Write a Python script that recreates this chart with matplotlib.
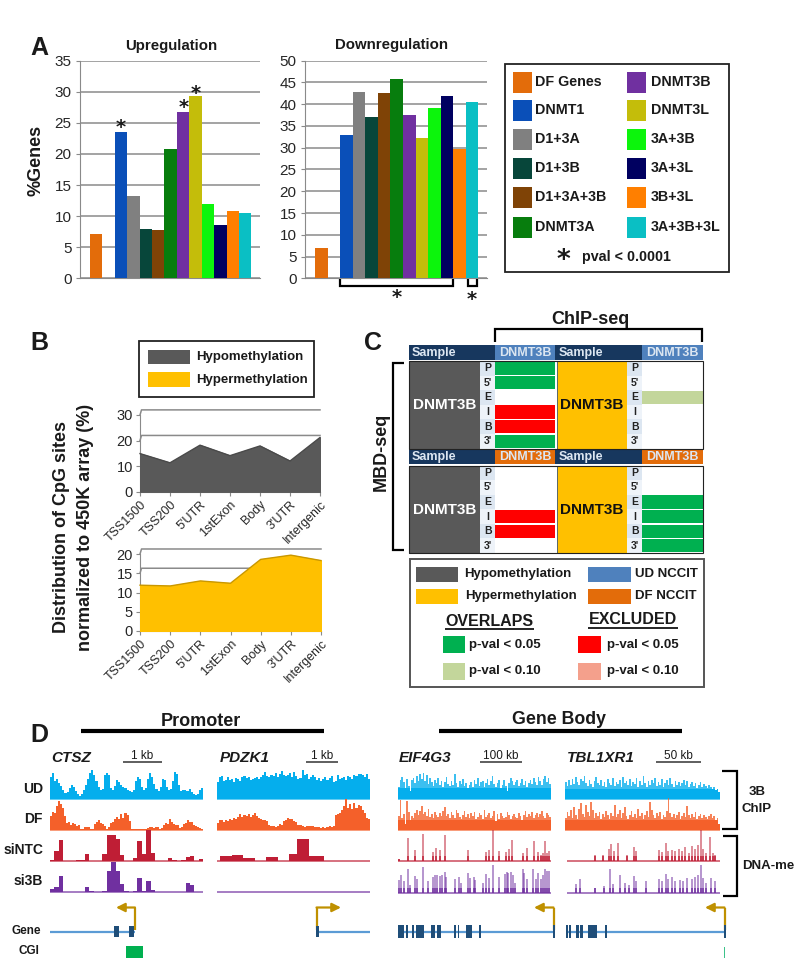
import numpy as np
import matplotlib
matplotlib.use("Agg")
import matplotlib.pyplot as plt
from matplotlib.patches import Rectangle

plt.rcParams['font.family'] = ['Liberation Sans', 'DejaVu Sans']

W, H = 800, 974

# ---- panel A data
groups = ['DF Genes', 'DNMT1', 'D1+3A', 'D1+3B', 'D1+3A+3B', 'DNMT3A',
          'DNMT3B', 'DNMT3L', '3A+3B', '3A+3L', '3B+3L', '3A+3B+3L']
group_colors = ['#e36c0a', '#0a4fb8', '#808080', '#07463a', '#7f4306', '#077d0d',
                '#7030a0', '#c4bd0a', '#0cf50c', '#000060', '#ff7f00', '#0abfc4']
up_values = [7.2, 23.5, 13.2, 8.0, 7.8, 20.8, 26.8, 29.4, 12.0, 8.5, 10.8, 10.5]
down_values = [7.0, 33.0, 42.8, 37.0, 42.5, 45.8, 37.6, 32.3, 39.2, 41.8, 29.6, 40.6]
bar_slots = [0, 2, 3, 4, 5, 6, 7, 8, 9, 10, 11, 12]

# ---- panel B data
regions = ['TSS1500', 'TSS200', "5'UTR", '1stExon', 'Body', "3'UTR", 'Intergenic']
hypo_values = [14.9, 11.3, 18.2, 14.1, 17.9, 12.0, 21.2]
hyper_values = [11.9, 11.7, 13.0, 12.4, 18.6, 19.7, 18.3]

# ---- panel C data, g = p<0.05 overlap, l = p<0.10 overlap, r = p<0.05 excluded
row_letters = ['P', "5'", 'E', 'I', 'B', "3'"]
ud_hypo = ['g', 'g', '', 'r', 'r', 'g']
ud_hyper = ['', '', 'l', '', '', '']
df_hypo = ['', '', '', 'r', 'r', '']
df_hyper = ['', '', 'g', 'g', 'g', 'g']

# ---- panel D data, track heights in pixels of the original figure
ctsz_ud = [22, 26, 18, 20, 16, 13, 9, 6, 7, 11, 14, 12, 8, 5, 3, 5, 9, 14, 20, 26, 29, 24, 18, 12, 9, 10, 24,
           26, 24, 11, 9, 13, 19, 17, 14, 12, 11, 9, 8, 7, 9, 18, 22, 20, 12, 9, 11, 20, 26, 22, 15, 10, 8, 12,
           20, 19, 12, 9, 10, 18, 27, 25, 14, 8, 9, 9, 8, 10, 7, 5, 4, 5, 9, 11]
ctsz_df = [14, 18, 17, 24, 29, 26, 22, 14, 7, 8, 5, 7, 6, 4, 5, 1, 1, 3, 3, 3, 1, 1, 6, 8, 10, 7, 6, 4, 1, 3, 7,
           8, 11, 13, 11, 16, 12, 17, 15, 9, 1, 1, 1, 1, 1, 1, 1, 1, 2, 3, 3, 2, 3, 3, 1, 2, 5, 7, 6, 11, 8, 6, 5,
           5, 2, 3, 6, 7, 10, 8, 8, 5, 4, 3, 2, 1]
ctsz_ntc = [1, 10, 21, 0, 0, 0, 1, 1, 7, 0, 0, 0, 7, 26, 26, 22, 6, 0, 0, 3, 20, 7, 31, 8, 0, 0, 0, 3, 1, 0, 1, 4, 5, 0, 2]
ctsz_si3b = [3, 5, 16, 0, 0, 0, 0, 0, 5, 1, 0, 0, 1, 21, 30, 21, 8, 1, 0, 1, 14, 1, 11, 2, 0, 0, 0, 0, 0, 0, 0, 9, 7, 0, 0]

pdzk_ud = [17, 22, 23, 18, 19, 22, 19, 20, 17, 21, 20, 18, 22, 23, 21, 22, 19, 20, 21, 22, 20, 22, 24, 27, 23, 22,
           24, 23, 26, 22, 25, 28, 24, 23, 24, 26, 22, 27, 23, 20, 21, 29, 24, 25, 20, 22, 24, 22, 19, 21, 18, 20,
           22, 19, 21, 23, 17, 18, 24, 20, 21, 22, 19, 23, 22, 20, 24, 23, 25, 25, 24, 22, 25, 20]
pdzk_df = [7, 10, 10, 8, 10, 9, 11, 10, 12, 11, 13, 16, 13, 15, 14, 16, 13, 15, 17, 14, 12, 11, 10, 10, 9, 5, 4, 4,
           3, 4, 6, 5, 9, 10, 12, 11, 11, 9, 8, 5, 5, 4, 3, 4, 4, 4, 4, 3, 3, 3, 2, 3, 2, 3, 4, 3, 4, 15, 16, 17, 20,
           24, 31, 22, 26, 21, 27, 22, 25, 24, 20, 17, 12, 11]
pdzk_ntc = [0, 5, 5, 5, 6, 6, 6, 3, 3, 3, 0, 0, 0, 4, 4, 4, 0, 0, 0, 7, 7, 22, 22, 22, 5, 5, 5, 5, 0, 0, 0, 0, 0, 0, 0, 0, 0, 0, 0, 0]
pdzk_si3b = [0, 0, 0, 0, 0, 0, 0, 0, 0, 0, 0, 0, 0, 0, 0, 0, 0, 0, 0, 0, 0, 0, 0, 0, 0, 0, 0, 0, 0, 0, 0, 0, 0, 0, 0, 0, 0, 0, 0, 0]

eif_ud = [12, 19, 22, 17, 11, 20, 13, 8, 19, 21, 16, 23, 18, 25, 20, 26, 18, 24, 15, 21, 17, 13, 19, 16, 21, 14,
          18, 12, 17, 22, 15, 13, 18, 14, 25, 16, 12, 18, 15, 20, 13, 16, 11, 14, 17, 12, 19, 15, 21, 13, 17, 18,
          12, 16, 20, 14, 18, 23, 15, 12, 16, 19, 11, 14, 19, 13, 8, 16, 21, 18, 14, 17, 19, 13, 16, 20, 14, 18,
          12, 16, 19, 15, 21, 17, 14, 22, 18, 14, 20, 23, 17, 21, 15]
eif_df = [14, 30, 12, 16, 6, 29, 18, 10, 14, 12, 17, 20, 15, 19, 24, 16, 18, 14, 21, 13, 16, 12, 18, 15, 13, 17, 14,
          19, 23, 14, 16, 12, 18, 15, 12, 20, 17, 13, 11, 15, 19, 13, 16, 12, 17, 14, 18, 11, 13, 17, 15, 11, 20, 13,
          15, 17, 12, 14, 19, 9, 16, 11, 17, 14, 12, 13, 18, 15, 11, 14, 16, 13, 12, 17, 14, 10, 15, 19, 13, 16, 14,
          18, 12, 15, 17, 13, 16, 19, 14, 12, 17, 15, 13]
tbl_ud = [17, 13, 19, 14, 20, 15, 22, 17, 14, 20, 18, 23, 16, 13, 19, 15, 12, 18, 22, 16, 14, 19, 13, 17, 12, 20,
          16, 14, 21, 13, 17, 15, 19, 12, 22, 16, 18, 14, 20, 13, 17, 15, 21, 12, 18, 14, 23, 16, 12, 18, 14, 19,
          16, 21, 13, 17, 14, 20, 12, 16, 19, 14, 21, 15, 12, 18, 14, 17, 13, 16, 19, 14, 18, 12, 15, 17, 13, 16,
          11, 14, 17, 12, 15, 13, 11, 14, 12, 10, 12, 9, 10, 7]
tbl_df = [12, 18, 14, 20, 12, 23, 15, 11, 21, 27, 16, 13, 25, 18, 14, 28, 20, 12, 17, 14, 18, 11, 16, 13, 19, 15,
          11, 17, 14, 25, 13, 16, 20, 12, 17, 23, 14, 11, 15, 19, 13, 16, 12, 21, 14, 17, 11, 15, 19, 13, 28, 20,
          15, 12, 17, 14, 18, 11, 15, 13, 19, 32, 17, 13, 16, 12, 15, 18, 11, 14, 17, 13, 24, 15, 12, 16, 13, 18,
          11, 14, 16, 12, 15, 13, 11, 14, 16, 12, 14, 10, 12, 6]

eif_ntc_pos = [2, 29, 52, 74, 104, 113, 126, 140, 209, 264, 273, 286, 305, 325, 335, 344, 375, 389, 408, 422, 429, 435, 443, 449, 455]
eif_ntc_h = [2, 23, 11, 27, 9, 13, 11, 26, 11, 9, 11, 31, 10, 9, 12, 21, 8, 13, 20, 9, 6, 8, 20, 8, 10]
eif_si3b_pos = [4, 10, 17, 29, 37, 52, 57, 74, 89, 104, 110, 117, 125, 132, 140, 144, 172, 184, 189, 209, 217, 227, 233,
                255, 264, 273, 286, 305, 322, 327, 332, 339, 347, 352, 375, 380, 387, 407, 415, 422, 429, 435, 442, 449, 455]
eif_si3b_h = [13, 18, 12, 24, 8, 17, 14, 26, 12, 16, 18, 18, 17, 18, 21, 16, 14, 16, 10, 20, 15, 16, 13, 10, 19, 15, 28,
              16, 19, 21, 20, 21, 18, 10, 24, 20, 14, 24, 14, 20, 14, 18, 24, 22, 22]
tbl_ntc_pos = [85, 108, 125, 131, 142, 152, 180, 200, 208, 278, 285, 297, 305, 315, 325, 338, 347, 355, 367, 375, 385, 395, 402, 410, 418, 430, 438, 445]
tbl_ntc_h = [6, 6, 12, 17, 10, 18, 6, 14, 10, 11, 9, 18, 10, 11, 10, 12, 10, 14, 8, 15, 12, 16, 31, 12, 8, 24, 8, 6]
tbl_si3b_pos = [28, 40, 85, 110, 130, 138, 158, 175, 185, 200, 208, 238, 278, 285, 297, 305, 315, 325, 340, 350, 360, 375, 385, 395, 402, 410, 418, 432, 445]
tbl_si3b_h = [9, 14, 5, 7, 24, 9, 18, 10, 8, 17, 12, 12, 14, 12, 19, 14, 16, 12, 13, 12, 15, 14, 16, 18, 28, 15, 10, 15, 12]

eif_exons = [(398, 404), (406, 408), (412, 414), (416, 424), (431, 435), (437, 441), (454, 456), (458, 459), (466, 472), (479, 481), (553, 554.5)]
tbl_exons = [(566, 568), (569, 571), (576, 579), (580, 583), (588, 597), (605, 607), (724, 725.5)]

BLUE, ORANGE, RED, PURPLE = '#05aeed', '#f4602a', '#bf1e35', '#7030a0'
GRAY, GOLD = '#595959', '#ffc000'
GRID = '#8a8a8a'
TXT = '#1a1a1a'

fig = plt.figure(figsize=(W / 100, H / 100), dpi=100)


def px_axes(x0, y0, x1, y1):
    a = fig.add_axes([x0 / W, 1 - y1 / H, (x1 - x0) / W, (y1 - y0) / H])
    a.patch.set_alpha(0)
    return a


# overlay in pixel coordinates for labels, boxes and brackets
ov = fig.add_axes([0, 0, 1, 1], zorder=5)
ov.set_xlim(0, W)
ov.set_ylim(H, 0)
ov.axis('off')
ov.patch.set_alpha(0)


def txt(x, y, s, size=10, weight='bold', ha='left', va='center', color=TXT, **kw):
    ov.text(x, y, s, fontsize=size, fontweight=weight, ha=ha, va=va, color=color, **kw)


def box(x0, y0, x1, y1, fc='none', ec='none', lw=0, z=2):
    ov.add_patch(Rectangle((x0, y0), x1 - x0, y1 - y0, fc=fc, ec=ec, lw=lw, zorder=z))


def path(xs, ys, color='black', lw=1.6):
    ov.plot(xs, ys, color=color, lw=lw, solid_capstyle='butt', solid_joinstyle='miter')


def star(x, y, size=14):
    ov.text(x, y, '*', fontsize=size, fontweight='bold', ha='center', va='center',
            family='DejaVu Sans', color=TXT)


for s, x, y in [('A', 30, 48), ('B', 30, 343), ('C', 364, 343), ('D', 30, 735)]:
    txt(x, y, s, size=18)


# ---- panel A
def bar_panel(rect, values, ymax, step):
    a = px_axes(*rect)
    a.bar(bar_slots, values, width=1.0, color=group_colors, zorder=3)
    a.set_xlim(-1.31, 13.2)
    a.set_ylim(0, ymax)
    a.set_yticks(np.arange(0, ymax + 1, step))
    a.set_xticks([])
    a.grid(axis='y', color=GRID, lw=1.1, zorder=0)
    a.set_axisbelow(True)
    for sp in ['top', 'right']:
        a.spines[sp].set_visible(False)
    a.spines['left'].set_color(GRID)
    a.spines['bottom'].set_color(GRID)
    a.tick_params(axis='y', labelsize=11, color=GRID, length=3, pad=3, labelcolor='#262626')
    return a


bar_panel((80, 60.7, 260, 278.3), up_values, 35, 5)
bar_panel((305, 60.7, 487, 278.3), down_values, 50, 5)
txt(171, 46, 'Upregulation', size=10.8, ha='center')
txt(392, 45, 'Downregulation', size=10.8, ha='center')
txt(36, 160, '%Genes', size=13, ha='center', rotation=90)
star(121, 128)
star(184, 108)
star(196, 93)
path([340, 340, 453, 453], [279, 286, 286, 279])
path([467.5, 467.5, 476.5, 476.5], [279, 286, 286, 279])
star(397, 298)
star(472, 299)

box(505, 64, 729, 272, ec='#222222', lw=1.3)
for i, (name, col) in enumerate(zip(groups, group_colors)):
    col_i, row_i = divmod(i, 6)
    xs = [513, 627][col_i]
    yc = [82, 110, 139, 168, 197, 227][row_i]
    box(xs, yc - 10.5, xs + 19, yc + 10.5, fc=col)
    txt(xs + 22 + 2 * col_i, yc, name, size=10.3)
star(563, 261, size=19)
txt(582, 257, 'pval < 0.0001', size=10.3)

# ---- panel B
box(139, 341, 314, 397, ec='#222222', lw=1.3)
box(148, 350, 190, 364, fc=GRAY)
box(148, 372, 190, 387, fc=GOLD)
txt(196, 357, 'Hypomethylation', size=9.5)
txt(196, 380, 'Hypermethylation', size=9.5)
txt(62, 527, 'Distribution of CpG sites', size=13, ha='center', rotation=90)
txt(85, 527, 'normalized to 450K array (%)', size=13, ha='center', rotation=90)


def area_panel(rect, values, color, edge, ymax, ticks, walls, wall_dy, wall_dx):
    a = px_axes(*rect)
    xpos = np.arange(len(regions))
    for w in walls:
        a.plot([0, wall_dx, 6], [w, w + wall_dy, w + wall_dy], color=GRID, lw=1.1, clip_on=False, zorder=1)
    a.fill_between(xpos, 0, values, color=color, zorder=3)
    a.plot(xpos, values, color=edge, lw=1.0, zorder=4, clip_on=False)
    a.set_xlim(0, 6)
    a.set_ylim(0, ymax)
    a.set_yticks(ticks)
    a.set_xticks(xpos)
    a.set_xticklabels(regions, rotation=45, ha='right', rotation_mode='anchor', fontsize=9, color='#262626')
    for sp in ['top', 'right']:
        a.spines[sp].set_visible(False)
    a.spines['left'].set_color(GRID)
    a.spines['bottom'].set_color(GRID)
    a.tick_params(axis='both', color=GRID, length=3)
    a.tick_params(axis='y', labelsize=10.5, labelcolor='#262626', pad=2)
    a.tick_params(axis='x', pad=2)


area_panel((140, 415, 320, 491.7), hypo_values, '#595959', '#4a4a4a', 30, [0, 10, 20, 30], [20, 30], 2.0, 0.05)
area_panel((140, 554, 321, 631), hyper_values, GOLD, '#c99700', 20, [0, 5, 10, 15, 20], [15, 20], 1.3, 0.05)

# ---- panel C
COL = {'g': '#00b050', 'r': '#ff0000', 'l': '#c3d69b', '': 'white'}
NAVY = '#17375e'
txt(590, 319, 'ChIP-seq', size=13, ha='center')
path([495, 495, 702, 702], [342, 329, 329, 342])
txt(381, 452, 'MBD-seq', size=13, ha='center', rotation=90)
path([404, 393, 393, 404], [363, 363, 550, 550])


def c_block(y_head, y0, head_color, left_cells, right_cells):
    box(409, y_head, 703, y_head + 15, fc=NAVY)
    box(495, y_head, 555, y_head + 15, fc=head_color)
    box(642, y_head, 703, y_head + 15, fc=head_color)
    txt(412, y_head + 8, 'Sample', size=9, color='#dce6f1')
    txt(559, y_head + 8, 'Sample', size=9, color='#dce6f1')
    txt(525, y_head + 8, 'DNMT3B', size=9, ha='center', color='#dce6f1')
    txt(672, y_head + 8, 'DNMT3B', size=9, ha='center', color='#dce6f1')
    y1 = y0 + 87.5
    box(409, y0, 480, y1, fc=GRAY, ec=NAVY, lw=0.5)
    box(557, y0, 627, y1, fc=GOLD, ec=NAVY, lw=0.5)
    txt(444.5, y0 + 44, 'DNMT3B', size=11, ha='center', color='white')
    txt(592, y0 + 44, 'DNMT3B', size=11, ha='center', color='#111111')
    hrow = 87.5 / 6
    for xa, xb, xc, xd, cells in [(480, 495, 495, 555, left_cells), (627, 642, 642, 703, right_cells)]:
        for i, (lab, c) in enumerate(zip(row_letters, cells)):
            yi = y0 + i * hrow
            box(xa, yi, xb, yi + hrow, fc='#dce6f1' if i % 2 == 0 else '#eef3f9')
            txt((xa + xb) / 2 + 0.5, yi + hrow / 2, lab, size=7.5, ha='center', color='#222222')
            box(xc, yi + 0.7, xd, yi + hrow - 0.7, fc=COL[c])
    box(409, y0, 703, y1, ec='#222222', lw=0.8, z=3)


c_block(345, 361, '#4f81bd', ud_hypo, ud_hyper)
c_block(449, 465.5, '#e36c0a', df_hypo, df_hyper)

box(410, 559, 704, 687, ec='#555555', lw=1.4)
box(416, 567, 458, 582, fc=GRAY)
box(416, 589, 458, 604, fc=GOLD)
box(588, 567, 631, 582, fc='#4f81bd')
box(588, 589, 631, 604, fc='#e36c0a')
txt(464, 574, 'Hypomethylation', size=9.5)
txt(465, 596, 'Hypermethylation', size=9.5)
txt(635, 574, 'UD NCCIT', size=9.5)
txt(635, 596, 'DF NCCIT', size=9.5)
txt(489, 621, 'OVERLAPS', size=11.5, ha='center')
txt(633, 620, 'EXCLUDED', size=11.5, ha='center')
path([445, 534], [629, 629], lw=1.2)
path([588, 678], [628, 628], lw=1.2)
box(443, 636, 465, 653, fc='#00b050')
box(443, 663, 465, 680, fc='#c3d69b')
box(578, 636, 601, 653, fc='#ff0000')
box(578, 663, 601, 680, fc='#f4a08c')
for xt in (469, 607):
    txt(xt, 645, 'p-val < 0.05', size=9.5)
    txt(xt, 671, 'p-val < 0.10', size=9.5)

# ---- panel D
txt(201, 721, 'Promoter', size=13, ha='center')
path([81, 324], [731, 731], lw=3)
txt(559, 720, 'Gene Body', size=12.8, ha='center')
path([439, 682], [731, 731], lw=3)

for s, x in [('CTSZ', 51), ('PDZK1', 220), ('EIF4G3', 399), ('TBL1XR1', 567)]:
    txt(x, 758, s, size=11, style='italic')
for s, x0, x1 in [('1 kb', 123, 162), ('1 kb', 306, 338), ('100 kb', 480, 522), ('50 kb', 656, 701)]:
    path([x0, x1], [762, 762], color='#333333', lw=1.1)
    txt((x0 + x1) / 2, 756, s, size=8.5, weight='normal', ha='center')
for s, y in [('UD', 789), ('DF', 819), ('siNTC', 850), ('si3B', 881)]:
    txt(43, y, s, size=10, ha='right')
txt(26, 931, 'Gene', size=8.5, ha='center')
txt(29, 951, 'CGI', size=8.5, ha='center')


def track(x0, x1, base, values, color, ymax=32, core=None):
    a = px_axes(x0, base - ymax, x1, base + 1)
    a.axis('off')
    edges = np.arange(len(values) + 1)
    if core is None:
        a.stairs(values, edges, fill=True, color=color, baseline=0)
    else:
        # the dense genome-wide tracks have a solid body and paler tips
        a.stairs(values, edges, fill=True, color=color, alpha=0.78, baseline=0, lw=0)
        a.stairs(np.minimum(values, core), edges, fill=True, color=color, baseline=0, lw=0)
    a.set_xlim(0, len(values))
    a.set_ylim(-1, ymax)
    a.axhline(0, color=color, lw=1.1, alpha=0.8)


def spikes(x0, x1, base, pos, heights, color, ymax=32):
    a = px_axes(x0, base - ymax, x1, base + 1)
    a.axis('off')
    a.vlines(pos, 0, heights, color=color, lw=1.2, alpha=0.6)
    a.vlines(pos, 0, np.minimum(heights, 5), color=color, lw=1.3, alpha=0.8)
    a.set_xlim(0, 460)
    a.set_ylim(-1, ymax)
    a.axhline(0, color=color, lw=1.1, alpha=0.8)


track(50, 203, 799, ctsz_ud, BLUE)
track(50, 203, 830, ctsz_df, ORANGE)
track(50, 203, 861, ctsz_ntc, RED)
track(50, 203, 892, ctsz_si3b, PURPLE)
track(216.5, 370, 799, pdzk_ud, BLUE)
track(216.5, 370, 830, pdzk_df, ORANGE)
track(216.5, 370, 861, pdzk_ntc, RED)
track(216.5, 370, 892, pdzk_si3b, PURPLE)
track(398, 551, 799, eif_ud, BLUE, core=11)
track(398, 551, 830, eif_df, ORANGE, core=10)
spikes(398, 551, 861, eif_ntc_pos, eif_ntc_h, RED)
spikes(398, 551, 893, eif_si3b_pos, eif_si3b_h, PURPLE)
track(565, 720, 799, tbl_ud, BLUE, core=10)
track(565, 720, 830, tbl_df, ORANGE, core=10)
spikes(567, 720, 861, tbl_ntc_pos, tbl_ntc_h, RED)
spikes(567, 720, 893, tbl_si3b_pos, tbl_si3b_h, PURPLE)

# gene models
LINE_BLUE, EXON, ARROW = '#5b9bd5', '#1f4e79', '#bf9000'


def tss_arrow(x, x_end):
    ov.annotate('', xy=(x_end, 907.5), xytext=(x, 907.5),
                arrowprops=dict(arrowstyle='-|>', color=ARROW, lw=1.6, shrinkA=0, shrinkB=0, mutation_scale=13))
    path([x, x], [930, 907.5], color=ARROW, lw=1.6)


path([50, 135], [931.5, 931.5], color=LINE_BLUE, lw=1.6)
path([316, 370], [931.5, 931.5], color=LINE_BLUE, lw=1.6)
path([398, 553], [931.5, 931.5], color=LINE_BLUE, lw=1.6)
path([567, 725], [931.5, 931.5], color=LINE_BLUE, lw=1.6)
for x0, x1 in [(114, 119), (129, 134), (316, 318.5)]:
    box(x0, 926, x1, 937, fc=EXON, z=3)
for x0, x1 in eif_exons + tbl_exons:
    box(x0, 925, x1, 938, fc=EXON, z=3)
tss_arrow(135, 116)
tss_arrow(316.5, 341)
tss_arrow(553.5, 534)
tss_arrow(724.5, 705)
box(125.5, 946, 143, 958, fc='#00b050')
box(724, 947, 725, 958, fc='#3cc28a')

# brackets at right
path([722, 737, 737, 722], [771, 771, 829, 829])
path([723, 737, 737, 723], [836, 836, 896, 896])
txt(757, 792, '3B', size=9.5, ha='center')
txt(757, 809, 'ChIP', size=9.5, ha='center')
txt(768, 866, 'DNA-me', size=9.5, ha='center')

fig.savefig('out.png', dpi=100)
